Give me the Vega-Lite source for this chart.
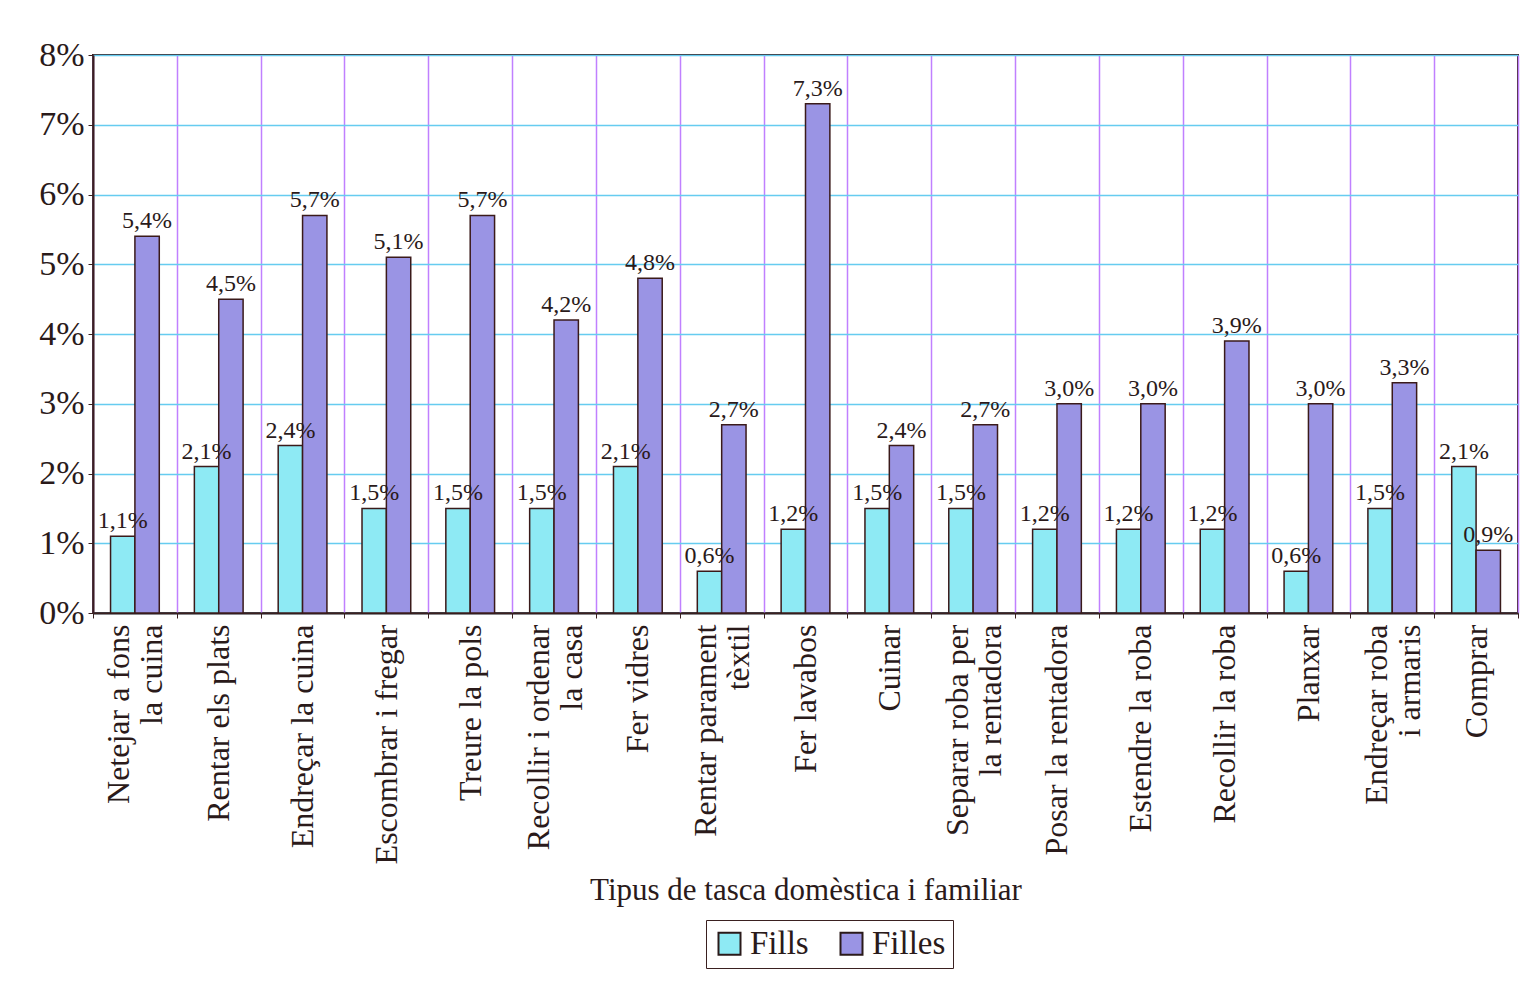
{
  "$schema": "https://vega.github.io/schema/vega-lite/v6.json",
  "autosize": {"type": "none"},
  "width": 1425,
  "height": 558,
  "padding": {"left": 93, "top": 55, "right": 22, "bottom": 382},
  "background": "white",
  "config": {
    "font": "Liberation Serif",
    "view": {"stroke": "#3a2020", "strokeWidth": 2}
  },
  "data": {
    "values": [
      {"tasca": "Netejar a fons\nla cuina", "grup": "Fills", "valor": 0.011},
      {"tasca": "Netejar a fons\nla cuina", "grup": "Filles", "valor": 0.054},
      {"tasca": "Rentar els plats", "grup": "Fills", "valor": 0.021},
      {"tasca": "Rentar els plats", "grup": "Filles", "valor": 0.045},
      {"tasca": "Endreçar la cuina", "grup": "Fills", "valor": 0.024},
      {"tasca": "Endreçar la cuina", "grup": "Filles", "valor": 0.057},
      {"tasca": "Escombrar i fregar", "grup": "Fills", "valor": 0.015},
      {"tasca": "Escombrar i fregar", "grup": "Filles", "valor": 0.051},
      {"tasca": "Treure la pols", "grup": "Fills", "valor": 0.015},
      {"tasca": "Treure la pols", "grup": "Filles", "valor": 0.057},
      {"tasca": "Recollir i ordenar\nla casa", "grup": "Fills", "valor": 0.015},
      {"tasca": "Recollir i ordenar\nla casa", "grup": "Filles", "valor": 0.042},
      {"tasca": "Fer vidres", "grup": "Fills", "valor": 0.021},
      {"tasca": "Fer vidres", "grup": "Filles", "valor": 0.048},
      {"tasca": "Rentar parament\ntèxtil", "grup": "Fills", "valor": 0.006},
      {"tasca": "Rentar parament\ntèxtil", "grup": "Filles", "valor": 0.027},
      {"tasca": "Fer lavabos", "grup": "Fills", "valor": 0.012},
      {"tasca": "Fer lavabos", "grup": "Filles", "valor": 0.073},
      {"tasca": "Cuinar", "grup": "Fills", "valor": 0.015},
      {"tasca": "Cuinar", "grup": "Filles", "valor": 0.024},
      {"tasca": "Separar roba per\nla rentadora", "grup": "Fills", "valor": 0.015},
      {"tasca": "Separar roba per\nla rentadora", "grup": "Filles", "valor": 0.027},
      {"tasca": "Posar la rentadora", "grup": "Fills", "valor": 0.012},
      {"tasca": "Posar la rentadora", "grup": "Filles", "valor": 0.030},
      {"tasca": "Estendre la roba", "grup": "Fills", "valor": 0.012},
      {"tasca": "Estendre la roba", "grup": "Filles", "valor": 0.030},
      {"tasca": "Recollir la roba", "grup": "Fills", "valor": 0.012},
      {"tasca": "Recollir la roba", "grup": "Filles", "valor": 0.039},
      {"tasca": "Planxar", "grup": "Fills", "valor": 0.006},
      {"tasca": "Planxar", "grup": "Filles", "valor": 0.030},
      {"tasca": "Endreçar roba\ni armaris", "grup": "Fills", "valor": 0.015},
      {"tasca": "Endreçar roba\ni armaris", "grup": "Filles", "valor": 0.033},
      {"tasca": "Comprar", "grup": "Fills", "valor": 0.021},
      {"tasca": "Comprar", "grup": "Filles", "valor": 0.009}
    ]
  },
  "encoding": {
    "x": {
      "field": "tasca",
      "type": "nominal",
      "sort": null,
      "title": "Tipus de tasca domèstica i familiar",
      "scale": {"paddingInner": 0, "paddingOuter": 0},
      "axis": {
        "labelAngle": -90,
        "labelAlign": "right",
        "labelBaseline": "middle",
        "labelExpr": "split(datum.label, '\\n')",
        "labelOffset": {"condition": {"test": "indexof(datum.label, '\\n') >= 0", "value": -16}, "value": 0},
        "labelFont": "Liberation Serif",
        "labelFontSize": 32,
        "labelLineHeight": 33,
        "labelColor": "#2a1a1a",
        "labelPadding": 6,
        "labelLimit": 400,
        "grid": true,
        "gridColor": "#c080ff",
        "gridWidth": 1.5,
        "tickBand": "extent",
        "domainColor": "#3a2020",
        "domainWidth": 2,
        "tickColor": "#3a2020",
        "tickSize": 5,
        "titleFont": "Liberation Serif",
        "titleFontSize": 31,
        "titleFontWeight": "normal",
        "titleColor": "#2a1a1a",
        "titlePadding": 62
      }
    },
    "xOffset": {
      "field": "grup",
      "type": "nominal",
      "sort": ["Fills", "Filles"],
      "scale": {"paddingInner": 0, "paddingOuter": 0.72}
    },
    "y": {
      "field": "valor",
      "type": "quantitative",
      "scale": {"domain": [0, 0.08]},
      "axis": {
        "title": null,
        "format": ".0%",
        "values": [0, 0.01, 0.02, 0.03, 0.04, 0.05, 0.06, 0.07, 0.08],
        "labelFont": "Liberation Serif",
        "labelFontSize": 34,
        "labelColor": "#2a1a1a",
        "labelPadding": 4,
        "grid": true,
        "gridColor": "#66ccf0",
        "gridWidth": 1.5,
        "domainColor": "#3a2020",
        "domainWidth": 2,
        "tickColor": "#3a2020",
        "tickSize": 5
      }
    }
  },
  "layer": [
    {
      "mark": {"type": "bar", "stroke": "#3a1a1a", "strokeWidth": 1.5, "opacity": 1},
      "encoding": {
        "color": {
          "field": "grup",
          "type": "nominal",
          "scale": {"domain": ["Fills", "Filles"], "range": ["#8eeaf4", "#9a94e4"]},
          "legend": {
            "title": null,
            "orient": "none",
            "legendX": 613,
            "legendY": 865,
            "direction": "horizontal",
            "symbolType": "square",
            "symbolSize": 484,
            "symbolStrokeColor": "#2a1a1a",
            "symbolStrokeWidth": 2,
            "symbolOpacity": 1,
            "labelFont": "Liberation Serif",
            "labelFontSize": 33,
            "labelColor": "#2a1a1a",
            "columnPadding": 26,
            "padding": 7,
            "strokeColor": "#3a2020",
            "fillColor": "white"
          }
        }
      }
    },
    {
      "transform": [
        {"calculate": "replace(format(datum.valor, '.1%'), '.', ',')", "as": "etiqueta"}
      ],
      "mark": {"type": "text", "baseline": "bottom", "dy": -3, "font": "Liberation Serif", "fontSize": 24, "color": "#2a1a1a"},
      "encoding": {
        "text": {"field": "etiqueta", "type": "nominal"}
      }
    }
  ]
}
